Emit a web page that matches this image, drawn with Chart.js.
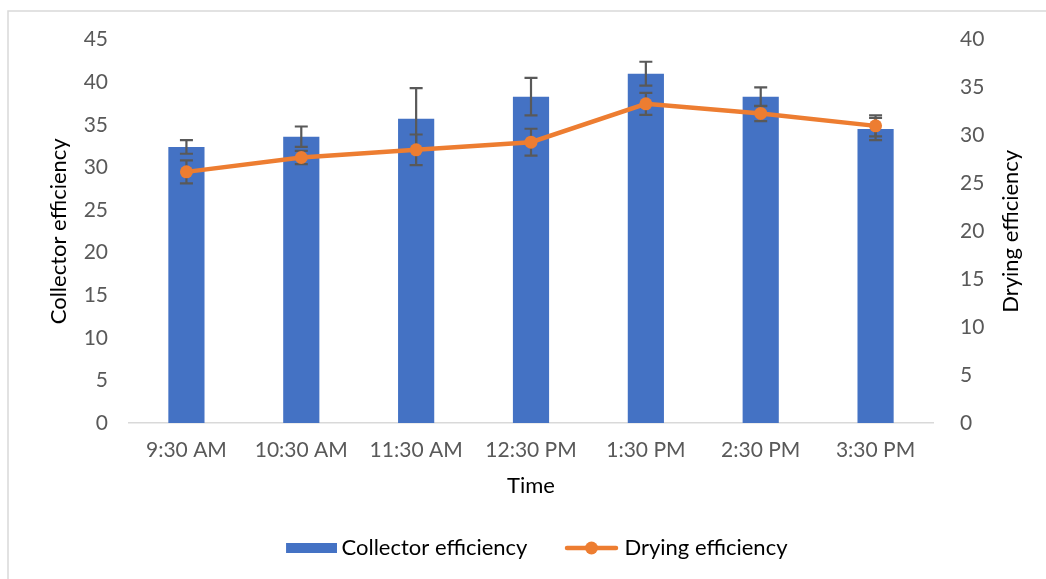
<!DOCTYPE html>
<html>
<head>
<meta charset="utf-8">
<script src="https://cdn.jsdelivr.net/npm/chart.js@4/dist/chart.umd.min.js"></script>
<style>
  body { margin: 0; background: #fff; }
  canvas { display: block; }
</style>
</head>
<body>
<canvas id="chart" width="1046" height="579"></canvas>
<script>
const timeLabels = ["9:30 AM", "10:30 AM", "11:30 AM", "12:30 PM", "1:30 PM", "2:30 PM", "3:30 PM"];
const collectorEff = [32.4, 33.6, 35.7, 38.3, 41.0, 38.3, 34.5];
const collectorErr = [0.8, 1.2, 3.6, 2.2, 1.4, 1.1, 1.3];
const dryingEff = [26.2, 27.7, 28.5, 29.3, 33.3, 32.3, 31.0];
const dryingErr = [1.2, 0.7, 1.6, 1.4, 1.15, 0.8, 1.1];
const leftMax = 45;
const rightMax = 40;
const tickStep = 5;

const BLUE = "#4472C4";
const ORANGE = "#ED7D31";
const FONT = "Lato";

// legend swatches (bar one padded on the left so it sits where Excel puts it)
const barSwatch = document.createElement("canvas");
barSwatch.width = 57; barSwatch.height = 10;
barSwatch.getContext("2d").fillStyle = BLUE;
barSwatch.getContext("2d").fillRect(6, 0, 51, 10);

const lineSwatch = document.createElement("canvas");
lineSwatch.width = 55; lineSwatch.height = 14;
{
  const c = lineSwatch.getContext("2d");
  c.strokeStyle = ORANGE; c.lineWidth = 4.5; c.lineCap = "round";
  c.beginPath(); c.moveTo(3, 7); c.lineTo(52, 7); c.stroke();
  c.fillStyle = ORANGE;
  c.beginPath(); c.arc(27.5, 7, 6.5, 0, Math.PI * 2); c.fill();
}

function drawErrors(ctx, meta, scale, values, errs) {
  ctx.save();
  ctx.strokeStyle = "#595959";
  ctx.lineWidth = 2.2;
  meta.data.forEach((el, i) => {
    const x = el.x;
    const yTop = scale.getPixelForValue(values[i] + errs[i]);
    const yBot = scale.getPixelForValue(values[i] - errs[i]);
    ctx.beginPath();
    ctx.moveTo(x, yTop); ctx.lineTo(x, yBot);
    ctx.moveTo(x - 6.5, yTop); ctx.lineTo(x + 6.5, yTop);
    ctx.moveTo(x - 6.5, yBot); ctx.lineTo(x + 6.5, yBot);
    ctx.stroke();
  });
  ctx.restore();
}

const extras = {
  id: "extras",
  beforeDraw(chart) {
    const ctx = chart.ctx;
    ctx.save();
    ctx.fillStyle = "#fff";
    ctx.fillRect(0, 0, chart.width, chart.height);
    ctx.strokeStyle = "#d9d9d9";
    ctx.lineWidth = 1.5;
    ctx.strokeRect(8, 11, 1200, 800);
    ctx.restore();
  },
  beforeDatasetDraw(chart, args) {
    if (args.index !== 1) return;
    drawErrors(chart.ctx, chart.getDatasetMeta(0), chart.scales.y, collectorEff, collectorErr);
    drawErrors(chart.ctx, chart.getDatasetMeta(1), chart.scales.y2, dryingEff, dryingErr);
  },
  afterDraw(chart) {
    const ctx = chart.ctx;
    const area = chart.chartArea;
    ctx.save();
    ctx.translate(1011, (area.top + area.bottom) / 2);
    ctx.rotate(-Math.PI / 2);
    ctx.font = "22px " + FONT;
    ctx.fillStyle = "#000";
    ctx.textAlign = "center";
    ctx.textBaseline = "middle";
    ctx.fillText("Drying efficiency", 0, 0);
    ctx.restore();
  }
};

new Chart(document.getElementById("chart").getContext("2d"), {
  data: {
    labels: timeLabels,
    datasets: [
      {
        type: "bar",
        label: "Collector efficiency",
        data: collectorEff,
        backgroundColor: BLUE,
        barPercentage: 0.315,
        categoryPercentage: 1,
        yAxisID: "y",
        order: 1
      },
      {
        type: "line",
        label: "Drying efficiency",
        data: dryingEff,
        borderColor: ORANGE,
        backgroundColor: ORANGE,
        borderWidth: 4.5,
        pointRadius: 6.5,
        pointBorderWidth: 0,
        pointBackgroundColor: ORANGE,
        tension: 0,
        yAxisID: "y2",
        order: 0
      }
    ]
  },
  options: {
    responsive: false,
    animation: false,
    layout: { padding: { top: 34, left: 28, right: 0, bottom: 10 } },
    plugins: {
      tooltip: { enabled: false },
      legend: {
        position: "bottom",
        labels: {
          usePointStyle: true,
          pointStyleWidth: 44,
          padding: 42,
          color: "#404040",
          font: { family: FONT, size: 22 },
          generateLabels: () => [
            { text: "Collector efficiency", pointStyle: barSwatch, fillStyle: BLUE, strokeStyle: BLUE, lineWidth: 0, datasetIndex: 0, hidden: false },
            { text: "Drying efficiency", pointStyle: lineSwatch, fillStyle: ORANGE, strokeStyle: ORANGE, lineWidth: 0, datasetIndex: 1, hidden: false }
          ]
        }
      }
    },
    scales: {
      x: {
        grid: { display: false, drawTicks: false },
        border: { display: true, color: "#d9d9d9", width: 1.5 },
        ticks: { color: "#595959", font: { family: FONT, size: 21 }, padding: 15, maxRotation: 0, autoSkip: false },
        title: { display: true, text: "Time", color: "#000", font: { family: FONT, size: 22 }, padding: { top: 0, bottom: -4 } },
        afterFit(scale) { scale.height = 72; }
      },
      y: {
        position: "left",
        min: 0, max: leftMax,
        grid: { display: false, drawTicks: false },
        border: { display: false },
        ticks: { stepSize: tickStep, color: "#595959", font: { family: FONT, size: 21 }, padding: 21 },
        title: { display: true, text: "Collector efficiency", color: "#000", font: { family: FONT, size: 22 }, padding: { top: 18, bottom: 0 } },
        afterFit(scale) { scale.width = 101; }
      },
      y2: {
        position: "right",
        min: 0, max: rightMax,
        grid: { display: false, drawTicks: false },
        border: { display: false },
        ticks: { stepSize: tickStep, color: "#595959", font: { family: FONT, size: 21 }, padding: 27 },
        afterFit(scale) { scale.width = 113; }
      }
    }
  },
  plugins: [extras]
});
</script>
</body>
</html>
